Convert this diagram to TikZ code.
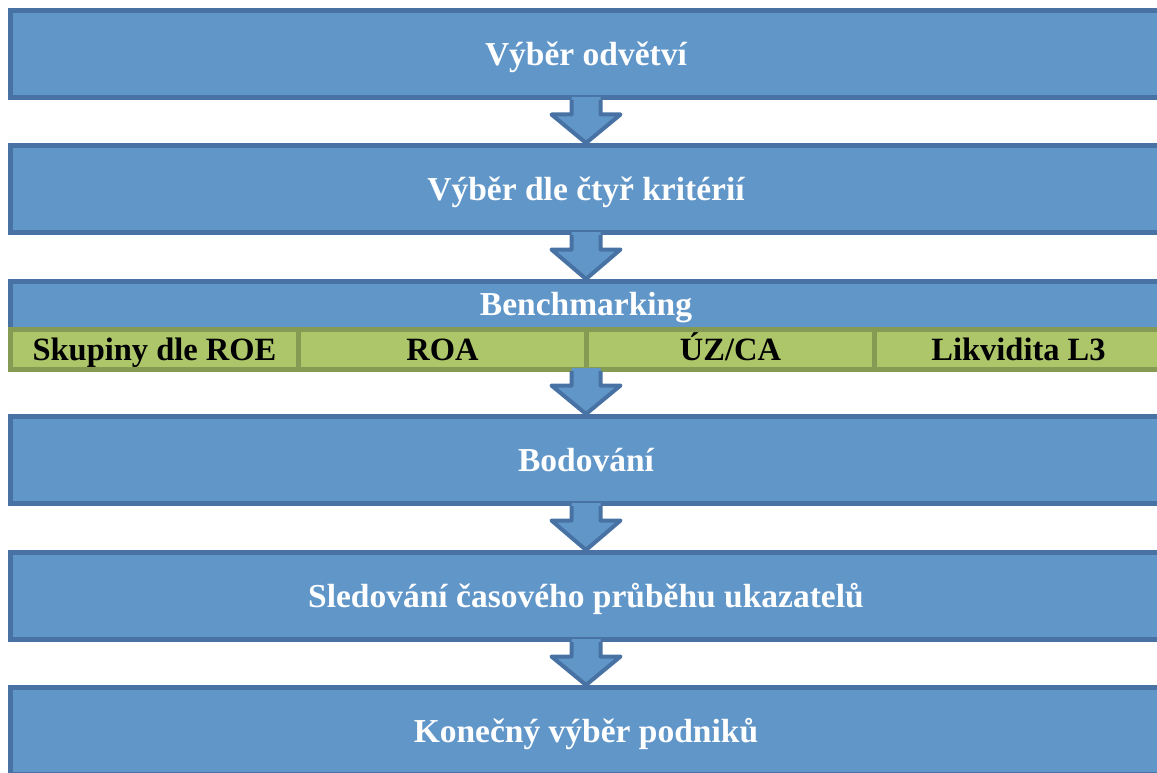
\documentclass[tikz,border=0pt]{standalone}
\usepackage{fontspec}
\setmainfont{Liberation Serif}
\usetikzlibrary{calc}
\definecolor{boxfill}{RGB}{97,150,201}
\definecolor{boxline}{RGB}{71,114,163}
\definecolor{cellfill}{RGB}{174,198,106}
\definecolor{cellline}{RGB}{133,155,84}
\tikzset{
  bluebox/.style={draw=boxline, fill=boxfill, line width=5pt, rectangle,
    minimum width=1151pt, minimum height=87pt, inner sep=0pt,
    text=white, font=\bfseries\fontsize{33.5}{40}\selectfont,
    text height=22.3pt, text depth=0pt},
  boxlabel/.style={inner sep=0pt, text=white, font=\bfseries\fontsize{33.5}{40}\selectfont,
    text height=22.3pt, text depth=0pt},
  greencell/.style={draw=cellline, fill=cellfill, line width=5pt, rectangle,
    minimum width=288pt, minimum height=40pt, inner sep=0pt,
    text=black, font=\bfseries\fontsize{32.5}{40}\selectfont,
    text height=21.5pt, text depth=0pt},
  arrowfill/.style={fill=boxfill},
  arrowline/.style={draw=boxline, line width=4pt, line join=round},
}
\newcommand{\flowarrow}[2]{%
  \fill[arrowfill] ($(#1.south)+(-14.5,-3)$) -- ($(#1.south)+(-14.5,14.5)$)
    -- ($(#1.south)+(-34.5,14.5)$) -- (#2.north) -- ($(#1.south)+(34.5,14.5)$)
    -- ($(#1.south)+(14.5,14.5)$) -- ($(#1.south)+(14.5,-3)$) -- cycle;
  \draw[arrowline] ($(#1.south)+(-14.5,0)$) -- ($(#1.south)+(-14.5,14.5)$)
    -- ($(#1.south)+(-34.5,14.5)$) -- (#2.north) -- ($(#1.south)+(34.5,14.5)$)
    -- ($(#1.south)+(14.5,14.5)$) -- ($(#1.south)+(14.5,0)$);
}
\begin{document}
\begin{tikzpicture}[x=1pt,y=-1pt]
\useasboundingbox (0,0) rectangle (1157,773);
\node[bluebox] (b1) at (586,54) {Výběr odvětví};
\node[bluebox] (b2) at (586,189) {Výběr dle čtyř kritérií};
\node[bluebox] (b3) at (586,325) {};
\node[boxlabel] (b3t) at (586,304) {Benchmarking};
\node[greencell] (c1) at (154.5,349.5) {Skupiny dle ROE};
\node[greencell] (c2) at (442.5,349.5) {ROA};
\node[greencell] (c3) at (730.5,349.5) {ÚZ/CA};
\node[greencell] (c4) at (1018.5,349.5) {Likvidita L3};
\node[bluebox] (b4) at (586,460) {Bodování};
\node[bluebox] (b5) at (586,596) {Sledování časového průběhu ukazatelů};
\node[bluebox] (b6) at (586,731) {Konečný výběr podniků};
\flowarrow{b1}{b2}
\flowarrow{b2}{b3}
\flowarrow{b3}{b4}
\flowarrow{b4}{b5}
\flowarrow{b5}{b6}
\end{tikzpicture}
\end{document}
